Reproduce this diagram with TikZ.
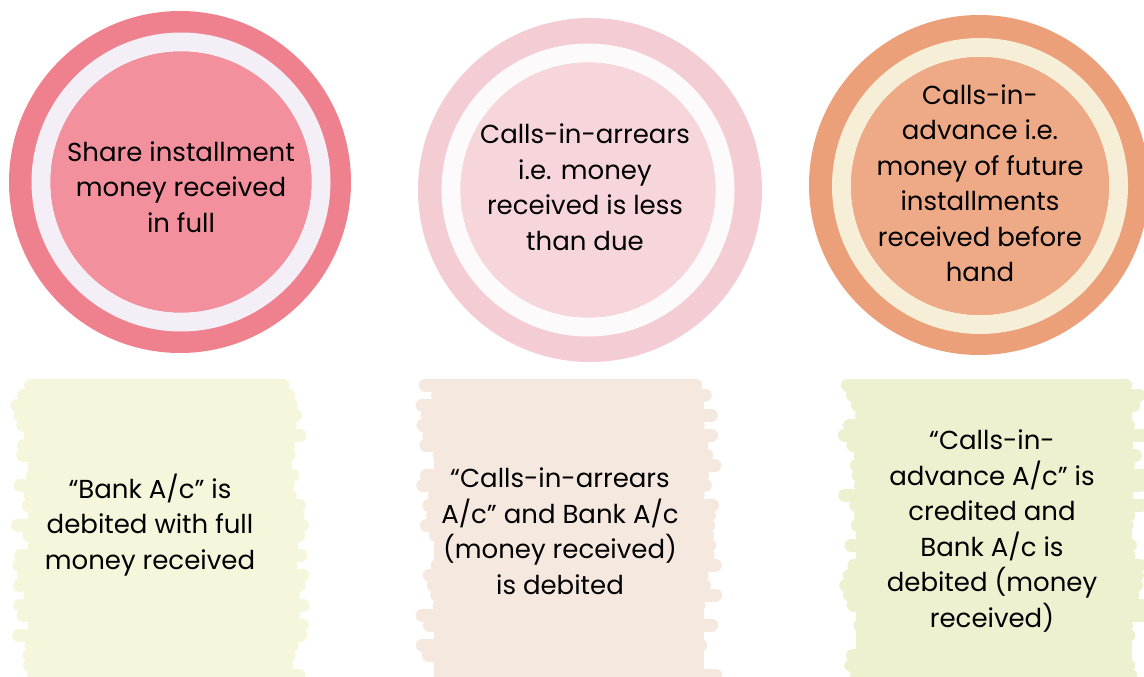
\documentclass[tikz,border=0pt]{standalone}
\usepackage{fontspec}
\setmainfont{Poppins}
\usepackage{xcolor}
\usepackage{tikz}
\usetikzlibrary{positioning}
\definecolor{pinkrim}{RGB}{239,129,143}
\definecolor{pinkface}{RGB}{243,144,157}
\definecolor{pinkring}{RGB}{244,238,246}
\definecolor{roserim}{RGB}{244,205,212}
\definecolor{roseface}{RGB}{246,213,219}
\definecolor{rosering}{RGB}{253,250,251}
\definecolor{peachrim}{RGB}{235,160,122}
\definecolor{peachface}{RGB}{238,170,135}
\definecolor{peachring}{RGB}{246,238,214}
\definecolor{creamwash}{RGB}{246,246,220}
\definecolor{beigewash}{RGB}{245,232,223}
\definecolor{limewash}{RGB}{237,241,208}

% painted brush patch: left, top, right, bottom, colour
\newcommand{\brushpatch}[5]{%
  \fill[#5] (#1+20,#2+12) rectangle (#3-20,#4+10);
  \foreach \i in {0,...,31}{
    \pgfmathsetmacro{\yy}{#2+7+10*\i}
    \pgfmathsetmacro{\la}{#1+8+rnd*22}
    \pgfmathsetmacro{\ra}{#3-8-rnd*22}
    \draw[#5, line width=13pt, line cap=round] (\la,\yy) -- (\ra,\yy);
  }
  % ragged top edge
  \foreach \i in {0,...,9}{
    \pgfmathsetmacro{\xa}{#1+30+\i*(#3-#1-60)/10}
    \pgfmathsetmacro{\ht}{#2+1+rnd*6}
    \fill[#5] (\xa,\ht) rectangle ++({(#3-#1-60)/10+1},10);
  }
}

\begin{document}
\begin{tikzpicture}[
  x=1pt, y=-1pt,
  every node/.style={font=\fontsize{26}{35.5}\selectfont, align=center, inner sep=0pt},
  ring/.style={line width=19pt},
  label/.style={text=black}
]
\pgfmathsetseed{11}
\useasboundingbox (0,0) rectangle (1144,677);

% Row 1: three buttons
\fill[pinkrim]  (180,182) circle (171);
\draw[ring, draw=pinkring] (181,182) circle (140);
\fill[pinkface] (181,182) circle (130.5);

\fill[roserim]  (590,190) circle (172);
\draw[ring, draw=rosering] (588,190) circle (137);
\fill[roseface] (588,190) circle (127.5);

\fill[peachrim]  (979,185) circle (170);
\draw[ring, draw=peachring] (980,186) circle (138.5);
\fill[peachface] (980,186) circle (129);

\node[label] (full)    at (181,187) {Share installment\\money received\\in full};
\node[label] (arrears) at (585,187) {Calls-in-arrears\\i.e. money\\received is less\\than due};
\node[label] (advance) at (980,183) {Calls-in-\\advance i.e.\\money of future\\installments\\received before\\hand};

% Row 2: brush patches with the entries
\brushpatch{8}{378}{312}{677}{creamwash}
\brushpatch{414}{378}{724}{677}{beigewash}
\brushpatch{836}{378}{1152}{677}{limewash}

\node[label] (bankdr)  at (150,525) {“Bank A/c” is\\debited with full\\money received};
\node[label] (arrdr)   at (560,531) {“Calls-in-arrears\\A/c” and Bank A/c\\(money received)\\is debited};
\node[label] (advcr)   at (992,531) {“Calls-in-\\advance A/c” is\\credited and\\Bank A/c is\\debited (money\\received)};
\end{tikzpicture}
\end{document}
